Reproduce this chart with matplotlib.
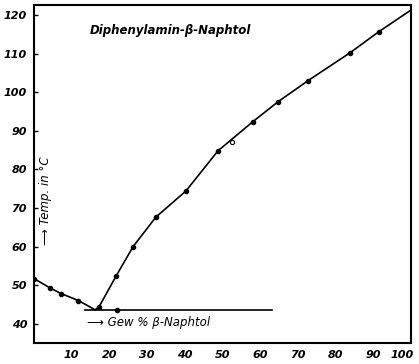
import matplotlib.pyplot as plt
from matplotlib.transforms import ScaledTranslation

# Schmelzdiagramm Diphenylamin - beta-Naphtol
left_x = [0, 4.2, 7.2, 11.8]
left_T = [51.7, 49.3, 47.8, 46.0]
eut_x = [16.2]
eut_T = [43.6]
right_x = [17.2, 21.8, 26.3, 32.3, 40.3, 48.8, 58.1, 64.7, 72.7, 83.8, 91.5]
right_T = [44.3, 52.4, 60.0, 67.6, 74.4, 84.8, 92.4, 97.5, 103.0, 110.2, 115.7]
odd_x = [52.5]
odd_T = [87.2]
end_x = [100]
end_T = [121.3]
eut_line_x = [13.5, 63]
eut_line_pts_x = [22]

xticks = [10, 20, 30, 40, 50, 60, 70, 80, 90, 100]
yticks = [40, 50, 60, 70, 80, 90, 100, 110, 120]

tick_font = dict(family='DejaVu Sans', style='italic', weight='bold', size=8)

fig = plt.figure(figsize=(4.19, 3.64), dpi=100)
ax = fig.add_axes([34 / 419, 21 / 364, 377 / 419, 338 / 364])

# liquidus curve
ax.plot(left_x + eut_x, left_T + eut_T, color='black', lw=1.2)
ax.plot(eut_x + right_x + end_x, eut_T + right_T + end_T, color='black', lw=1.2)
# eutectic horizontal
ax.plot(eut_line_x, [eut_T[0]] * 2, color='black', lw=1.2)

ax.plot(left_x + right_x, left_T + right_T, 'o', color='black', ms=3)
ax.plot(eut_line_pts_x, eut_T, 'o', color='black', ms=3)
ax.plot(odd_x, odd_T, 'o', mfc='white', mec='black', ms=3, mew=0.8)

ax.set_xlim(0, 100)
ax.set_ylim(35, 122.6)
ax.set_xticks(xticks)
ax.set_yticks(yticks)
ax.set_xticklabels([str(v) for v in xticks], fontdict=tick_font)
ax.set_yticklabels([str(v) for v in yticks], fontdict=tick_font)
ax.tick_params(axis='y', direction='in', length=3, width=1, pad=5)
ax.tick_params(axis='x', length=0, pad=5)
for s in ax.spines.values():
    s.set_linewidth(1.5)

# last x label sits at the edge, nudge it in so it stays on the sheet
last = ax.get_xticklabels()[-1]
last.set_transform(last.get_transform() + ScaledTranslation(-9 / 100, 0, fig.dpi_scale_trans))

ax.text(0.149, 0.926, 'Diphenylamin-β-Naphtol', transform=ax.transAxes,
        fontsize=8.5, style='italic', weight='bold', va='center')
ax.text(0.14, 0.062, '⟶ Gew % β-Naphtol', transform=ax.transAxes,
        fontsize=8.5, style='italic', va='center')
ax.text(0.03, 0.42, '⟶ Temp. in °C', transform=ax.transAxes, rotation=90,
        fontsize=8.5, style='italic', ha='center', va='center')

fig.savefig('out.png', dpi=100)
